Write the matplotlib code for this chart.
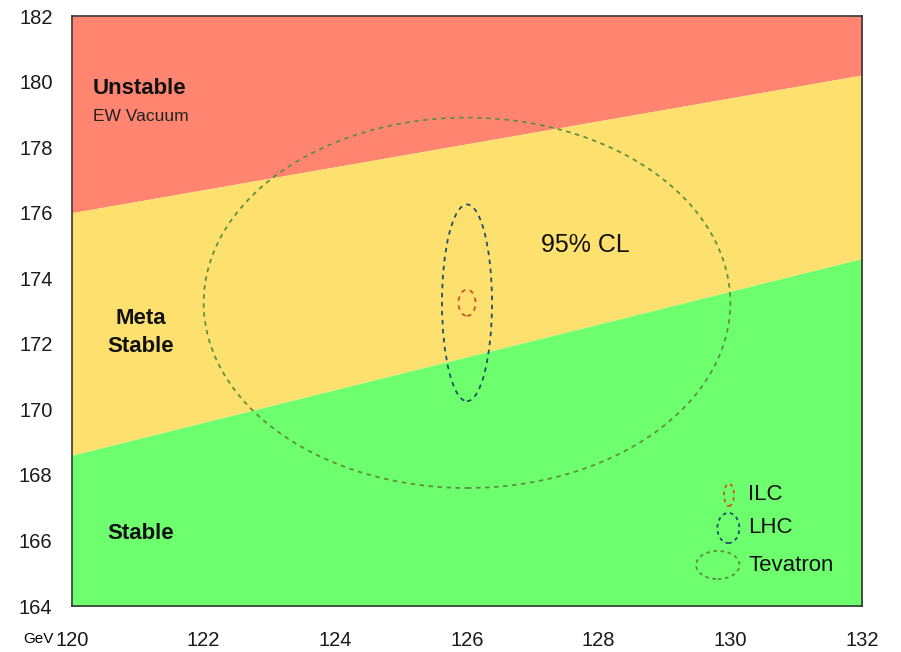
import numpy as np
import matplotlib.pyplot as plt
from matplotlib.patches import Ellipse

plt.rcParams['font.family'] = ['Liberation Sans', 'DejaVu Sans']

# Stability region boundaries (top mass vs Higgs mass)
x_edges = [120, 132]
unstable_edge = [176.0, 180.2]
stable_edge = [168.6, 174.6]

# Measurement ellipses: name, centre, half-widths, colour
names = ['ILC', 'LHC', 'Tevatron']
centre = (126.0, 173.25)
half_w = [0.13, 0.38, 4.0]
half_h = [0.40, 3.0, 5.65]
colors = ['#d0561e', '#1f4f6a', '#5f8f3f']

x_ticks = [120, 122, 124, 126, 128, 130, 132]
y_ticks = [164, 166, 168, 170, 172, 174, 176, 178, 180, 182]

fig = plt.figure(figsize=(9.01, 6.52), dpi=100)
ax = fig.add_axes([72 / 901, 46 / 652, 790 / 901, 590 / 652])

ax.fill_between(x_edges, unstable_edge, [182, 182], color='#ff8570', lw=0)
ax.fill_between(x_edges, stable_edge, unstable_edge, color='#fde06e', lw=0)
ax.fill_between(x_edges, [164, 164], stable_edge, color='#6dff6d', lw=0)

for w, h, c in zip(half_w, half_h, colors):
    ax.add_patch(Ellipse(centre, 2 * w, 2 * h, fill=False, ec=c, lw=1.3,
                         ls=(0, (2.5, 2.5))))

ax.set_xlim(120, 132)
ax.set_ylim(164, 182)
ax.set_xticks(x_ticks)
ax.set_yticks(y_ticks)
ax.tick_params(length=0, labelsize=14.5, labelcolor='#1a1a1a')
ax.tick_params(axis='y', pad=14)
ax.tick_params(axis='x', pad=18)
for s in ax.spines.values():
    s.set_color('#333333')
    s.set_linewidth(1.2)

ax.text(120.32, 179.8, 'Unstable', fontsize=16, fontweight='bold',
        ha='left', va='center', color='#111111')
ax.text(120.32, 178.92, 'EW Vacuum', fontsize=12.5, ha='left', va='center',
        color='#222222')
ax.text(121.05, 172.35, 'Meta\nStable', fontsize=16, fontweight='bold',
        ha='center', va='center', linespacing=1.45, color='#111111')
ax.text(121.05, 166.2, 'Stable', fontsize=16, fontweight='bold',
        ha='center', va='center', color='#111111')
ax.text(127.8, 175.0, '95% CL', fontsize=18, ha='center', va='center',
        color='#111111')

# Hand-made legend with small ellipse keys
leg_x = [129.98, 129.97, 129.81]
leg_y = [167.39, 166.38, 165.25]
leg_w = [0.076, 0.167, 0.33]
leg_h = [0.34, 0.46, 0.43]
for lx, ly, w, h, c, n in zip(leg_x, leg_y, leg_w, leg_h, colors, names):
    ax.add_patch(Ellipse((lx, ly), 2 * w, 2 * h, fill=False, ec=c, lw=1.3,
                         ls=(0, (2, 2))))
    ax.text(130.27, ly, n, fontsize=16, va='center', ha='left',
            color='#111111')

fig.text(54 / 901, 13 / 652, 'GeV', fontsize=11, va='center', ha='right')

fig.savefig('out.png', dpi=100)
